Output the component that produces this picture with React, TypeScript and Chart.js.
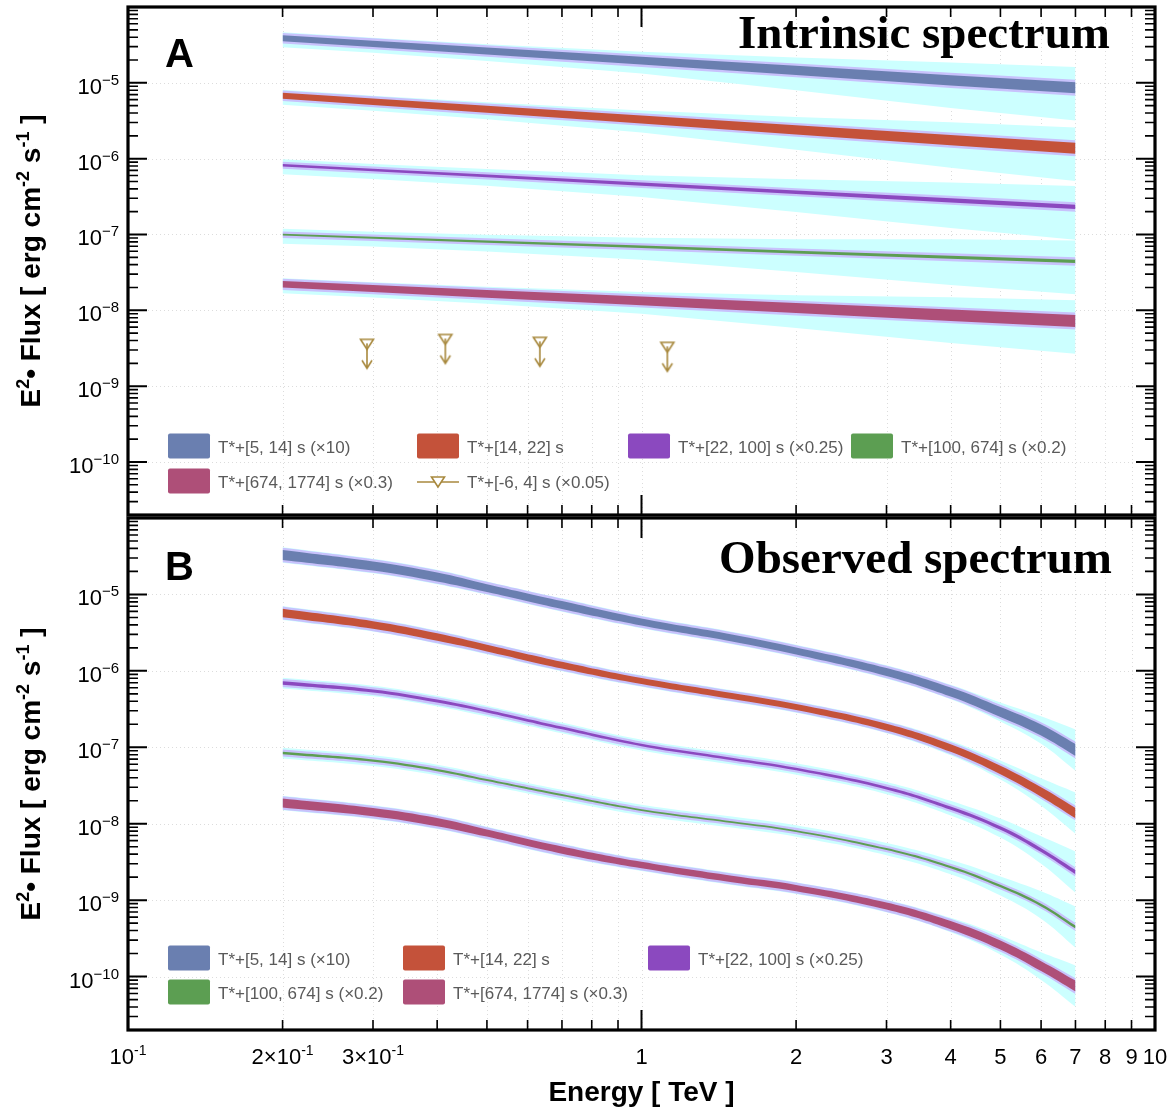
import React, { useEffect, useRef } from "react";
import { Chart, registerables } from "chart.js";

Chart.register(...registerables);

// ---------------- data ----------------
const ENERGY_A = [0.2, 0.3, 0.5, 1, 2, 4, 7];
const INTR_5_14 = [3.88e-5, 3.27e-5, 2.62e-5, 1.96e-5, 1.46e-5, 1.08e-5, 8.6e-6];
const INTR_14_22 = [6.76e-6, 5.64e-6, 4.48e-6, 3.28e-6, 2.4e-6, 1.76e-6, 1.37e-6];
const INTR_22_100 = [8.2e-7, 7.1e-7, 5.92e-7, 4.62e-7, 3.61e-7, 2.82e-7, 2.31e-7];
const INTR_100_674 = [9.93e-8, 9.08e-8, 8.05e-8, 6.89e-8, 5.86e-8, 5.01e-8, 4.41e-8];
const INTR_674_1774 = [2.2e-8, 1.94e-8, 1.65e-8, 1.33e-8, 1.07e-8, 8.61e-9, 7.23e-9];

// band half-widths (decades) for the intrinsic panel
const CORE_HALF_A = [0.039, 0.042, 0.046, 0.052, 0.06, 0.068, 0.072];
const STAT_PAD_A = [0.03, 0.03, 0.03, 0.03, 0.03, 0.032, 0.034];
const SYS_UP_A = [0.079, 0.079, 0.092, 0.118, 0.17, 0.236, 0.275];
const SYS_LO_A = [0.118, 0.118, 0.131, 0.17, 0.262, 0.366, 0.432];

const ENERGY_B = [0.2, 0.3, 0.4, 0.5, 0.7, 1, 1.5, 2, 3, 4, 5, 6, 7];
const OBS_5_14 = [3.28e-5, 2.35e-5, 1.69e-5, 1.21e-5, 7.26e-6, 4.35e-6, 2.69e-6, 1.82e-6, 9.66e-7, 5.28e-7, 2.89e-7, 1.68e-7, 9.21e-8];
const OBS_14_22 = [5.71e-6, 3.98e-6, 2.77e-6, 1.99e-6, 1.19e-6, 7.36e-7, 4.68e-7, 3.36e-7, 1.84e-7, 9.78e-8, 5.04e-8, 2.6e-8, 1.38e-8];
const OBS_22_100 = [6.93e-7, 5.45e-7, 4.03e-7, 2.98e-7, 1.79e-7, 1.07e-7, 7.02e-8, 5.19e-8, 2.93e-8, 1.6e-8, 8.78e-9, 4.52e-9, 2.33e-9];
const OBS_100_674 = [8.41e-8, 6.69e-8, 5.04e-8, 3.73e-8, 2.37e-8, 1.51e-8, 1.05e-8, 8.02e-9, 4.66e-9, 2.71e-9, 1.53e-9, 8.63e-10, 4.45e-10];
const OBS_674_1774 = [1.87e-8, 1.42e-8, 1.05e-8, 7.55e-9, 4.52e-9, 2.88e-9, 1.89e-9, 1.44e-9, 8.38e-10, 4.72e-10, 2.59e-10, 1.37e-10, 7.52e-11];

// band half-widths (decades) for the observed panel
const CORE_HALF_B = [0.065, 0.059, 0.059, 0.052, 0.052, 0.046, 0.046, 0.046, 0.052, 0.059, 0.065, 0.072, 0.079];
const STAT_PAD_B = [0.03, 0.03, 0.03, 0.03, 0.03, 0.03, 0.03, 0.03, 0.03, 0.03, 0.03, 0.03, 0.032];
const SYS_HALF_B = [0.07, 0.07, 0.07, 0.07, 0.07, 0.07, 0.072, 0.075, 0.08, 0.095, 0.125, 0.18, 0.27];

// upper limits T*+[-6, 4] s (x0.05)
const UL_ENERGY = [0.292, 0.415, 0.634, 1.123];
const UL_FLUX = [3.56e-9, 4.13e-9, 3.78e-9, 3.25e-9];

const SERIES_LABELS = [
  "T*+[5, 14] s (×10)",
  "T*+[14, 22] s",
  "T*+[22, 100] s (×0.25)",
  "T*+[100, 674] s (×0.2)",
  "T*+[674, 1774] s (×0.3)",
];
const UL_LABEL = "T*+[-6, 4] s (×0.05)";

const X_TICKS = [0.1, 0.2, 0.3, 0.4, 0.5, 0.6, 0.7, 0.8, 0.9, 1, 2, 3, 4, 5, 6, 7, 8, 9, 10];
const X_LABEL_VALUES = [0.1, 0.2, 0.3, 1, 2, 3, 4, 5, 6, 7, 8, 9, 10];
const X_LABEL_MAIN = ["10", "2×10", "3×10", "1", "2", "3", "4", "5", "6", "7", "8", "9", "10"];
const X_LABEL_SUP = ["-1", "-1", "-1", "", "", "", "", "", "", "", "", "", ""];
const Y_LABEL_EXP = [-10, -9, -8, -7, -6, -5];

// ---------------- styles ----------------
const COLORS = ["#6a7fb0", "#c4523a", "#8b49bf", "#5c9e52", "#ae4f78"];
const CORE_FACTOR_A = [1, 1, 0.4, 0.3, 1.1];
const CORE_FACTOR_B = [1, 0.85, 0.35, 0.25, 0.9];
const LAVENDER = "rgb(200,194,252)";
const CYAN = "rgb(204,255,255)";
const GOLD = "#a8893e";
const SANS = "'Liberation Sans', Arial, Helvetica, sans-serif";
const SERIF = "'Liberation Serif', 'Times New Roman', serif";
const X_MIN = 0.1, X_MAX = 10, Y_MIN = 2e-11, Y_MAX = 1e-4;

type Seg = { t: string; sup?: boolean };

function bandDatasets(
  energies: number[], values: number[], coreHalf: number[], statPad: number[],
  sysUp: number[], sysLo: number[], factor: number, color: string, smooth: boolean
) {
  const pts = (k: (i: number) => number) => energies.map((e, i) => ({ x: e, y: values[i] * Math.pow(10, k(i)) }));
  const core = (i: number) => factor * coreHalf[i];
  const stat = (i: number) => core(i) + statPad[i];
  const up = (i: number) => Math.max(stat(i) + 0.006, sysUp[i]);
  const lo = (i: number) => Math.max(stat(i) + 0.006, sysLo[i]);
  const common: any = {
    borderWidth: 0, borderColor: "transparent", pointRadius: 0, pointHoverRadius: 0,
    tension: smooth ? 0.4 : 0, cubicInterpolationMode: "default",
  };
  return [
    { ...common, data: pts(up), fill: "+1", backgroundColor: CYAN, order: 3 },
    { ...common, data: pts((i) => -lo(i)), fill: false, order: 3 },
    { ...common, data: pts(stat), fill: "+1", backgroundColor: LAVENDER, order: 2 },
    { ...common, data: pts((i) => -stat(i)), fill: false, order: 2 },
    { ...common, data: pts(core), fill: "+1", backgroundColor: color, order: 1 },
    { ...common, data: pts((i) => -core(i)), fill: false, order: 1 },
  ];
}

function makeUlImage() {
  const c = document.createElement("canvas");
  c.width = 20; c.height = 64;
  const g = c.getContext("2d")!;
  g.strokeStyle = GOLD; g.lineWidth = 1.6; g.lineJoin = "miter";
  const cx = 10, cy = 32;
  g.beginPath();
  g.moveTo(cx - 6.5, cy - 5); g.lineTo(cx + 6.5, cy - 5); g.lineTo(cx, cy + 5); g.closePath();
  g.stroke();
  g.beginPath();
  g.moveTo(cx, cy - 1); g.lineTo(cx, cy + 24);
  g.moveTo(cx - 5, cy + 16); g.lineTo(cx, cy + 24); g.lineTo(cx + 5, cy + 16);
  g.stroke();
  return c;
}

function drawRich(ctx: CanvasRenderingContext2D, segs: Seg[], x: number, y: number,
  mainFont: string, supFont: string, rise: number, align: "left" | "right" | "center", color: string) {
  ctx.textAlign = "left"; ctx.textBaseline = "alphabetic"; ctx.fillStyle = color;
  let total = 0;
  const w = segs.map((s) => { ctx.font = s.sup ? supFont : mainFont; const m = ctx.measureText(s.t).width; total += m; return m; });
  let cx = align === "right" ? x - total : align === "center" ? x - total / 2 : x;
  segs.forEach((s, i) => {
    ctx.font = s.sup ? supFont : mainFont;
    ctx.fillText(s.t, cx, s.sup ? y - rise : y);
    cx += w[i];
  });
}

function isMajor(v: number) {
  const l = Math.log10(v);
  return Math.abs(l - Math.round(l)) < 1e-6;
}

type LegendItem = { kind: "box" | "ul"; color: string; text: string; x: number; y: number };

function makeDecor(panel: "A" | "B", offsetY: number, legend: LegendItem[], title: string) {
  return {
    id: "decor" + panel,
    beforeDatasetsDraw(chart: any) {
      const { ctx, chartArea: a, scales } = chart;
      const xs = scales.x, ys = scales.y;
      ctx.save();
      ctx.strokeStyle = "#dcdcdc"; ctx.lineWidth = 1; ctx.setLineDash([1, 3]);
      ctx.beginPath();
      X_TICKS.forEach((v) => {
        if (v <= X_MIN || v >= X_MAX) return;
        const px = Math.round(xs.getPixelForValue(v)) + 0.5;
        ctx.moveTo(px, a.top); ctx.lineTo(px, a.bottom);
      });
      Y_LABEL_EXP.forEach((e) => {
        const py = Math.round(ys.getPixelForValue(Math.pow(10, e))) + 0.5;
        ctx.moveTo(a.left, py); ctx.lineTo(a.right, py);
      });
      ctx.stroke();
      ctx.restore();
    },
    afterDraw(chart: any) {
      const { ctx, chartArea: a, scales } = chart;
      const xs = scales.x, ys = scales.y;
      ctx.save();
      // ticks
      ctx.strokeStyle = "#000"; ctx.setLineDash([]);
      X_TICKS.forEach((v) => {
        const px = xs.getPixelForValue(v);
        const len = isMajor(v) ? 20 : 10;
        ctx.lineWidth = isMajor(v) ? 2 : 1.6;
        ctx.beginPath();
        ctx.moveTo(px, a.top); ctx.lineTo(px, a.top + len);
        ctx.moveTo(px, a.bottom); ctx.lineTo(px, a.bottom - len);
        ctx.stroke();
      });
      for (let d = -11; d <= -4; d++) {
        for (let m = 1; m <= 9; m++) {
          const v = m * Math.pow(10, d);
          if (v < Y_MIN * 0.999 || v > Y_MAX * 1.001) continue;
          const py = ys.getPixelForValue(v);
          const len = m === 1 ? 19 : 10;
          ctx.lineWidth = m === 1 ? 2 : 1.6;
          ctx.beginPath();
          ctx.moveTo(a.left, py); ctx.lineTo(a.left + len, py);
          ctx.moveTo(a.right, py); ctx.lineTo(a.right - len, py);
          ctx.stroke();
        }
      }
      // frame
      ctx.lineWidth = 3.2;
      ctx.strokeRect(a.left, a.top, a.right - a.left, a.bottom - a.top);

      // y tick labels
      Y_LABEL_EXP.forEach((e) => {
        const py = ys.getPixelForValue(Math.pow(10, e));
        drawRich(ctx, [{ t: "10" }, { t: "−" + String(-e), sup: true }], 119, py + 11,
          `22px ${SANS}`, `15px ${SANS}`, 9, "right", "#000");
      });

      // y axis title (rotated)
      const cy = (a.top + a.bottom) / 2;
      ctx.save();
      ctx.translate(40, cy);
      ctx.rotate(-Math.PI / 2);
      drawRich(ctx, [
        { t: "E" }, { t: "2", sup: true }, { t: "• Flux [ erg cm" }, { t: "-2", sup: true },
        { t: " s" }, { t: "-1", sup: true }, { t: " ]" },
      ], 0, 0, `bold 28px ${SANS}`, `bold 18px ${SANS}`, 11, "center", "#000");
      ctx.restore();

      // panel letter and title
      ctx.fillStyle = "#000";
      ctx.textBaseline = "alphabetic";
      ctx.textAlign = "left";
      ctx.font = `bold 40px ${SANS}`;
      ctx.fillText(panel, 165, (panel === "A" ? 67 : 580) - offsetY);
      ctx.textAlign = "right";
      ctx.font = `bold 47px ${SERIF}`;
      ctx.fillText(title, panel === "A" ? 1110 : 1112, (panel === "A" ? 48 : 573) - offsetY);

      // legend
      legend.forEach((it) => {
        const y = it.y - offsetY;
        if (it.kind === "box") {
          ctx.fillStyle = it.color;
          ctx.beginPath();
          if ((ctx as any).roundRect) (ctx as any).roundRect(it.x, y - 12.5, 42, 25, 2);
          else ctx.rect(it.x, y - 12.5, 42, 25);
          ctx.fill();
        } else {
          ctx.strokeStyle = it.color; ctx.lineWidth = 1.6;
          ctx.beginPath();
          ctx.moveTo(it.x, y + 1); ctx.lineTo(it.x + 42, y + 1);
          ctx.stroke();
          ctx.beginPath();
          ctx.moveTo(it.x + 21 - 6.5, y - 4); ctx.lineTo(it.x + 21 + 6.5, y - 4); ctx.lineTo(it.x + 21, y + 6); ctx.closePath();
          ctx.fillStyle = "#fff"; ctx.fill(); ctx.stroke();
        }
        ctx.fillStyle = "#5a5a5a";
        ctx.font = `17px ${SANS}`;
        ctx.textAlign = "left";
        ctx.textBaseline = "middle";
        ctx.fillText(it.text, it.x + 50, y + 2);
      });

      // x labels and title (bottom panel)
      if (panel === "B") {
        X_LABEL_VALUES.forEach((v, i) => {
          const px = xs.getPixelForValue(v);
          const segs: Seg[] = [{ t: X_LABEL_MAIN[i] }];
          if (X_LABEL_SUP[i]) segs.push({ t: X_LABEL_SUP[i], sup: true });
          drawRich(ctx, segs, px, 1064 - offsetY, `22px ${SANS}`, `14px ${SANS}`, 9, "center", "#000");
        });
        ctx.fillStyle = "#000";
        ctx.font = `bold 28px ${SANS}`;
        ctx.textAlign = "center";
        ctx.textBaseline = "alphabetic";
        ctx.fillText("Energy [ TeV ]", (a.left + a.right) / 2, 1101 - offsetY);
      }
      ctx.restore();
    },
  };
}

function makeOptions(padding: any): any {
  return {
    responsive: false,
    maintainAspectRatio: false,
    animation: false,
    events: [],
    layout: { padding },
    plugins: { legend: { display: false }, tooltip: { enabled: false } },
    scales: {
      x: { type: "logarithmic", min: X_MIN, max: X_MAX, display: false },
      y: { type: "logarithmic", min: Y_MIN, max: Y_MAX, display: false },
    },
  };
}

export default function App() {
  const refA = useRef<HTMLCanvasElement>(null);
  const refB = useRef<HTMLCanvasElement>(null);

  useEffect(() => {
    document.body.style.margin = "0";
    const ulImg = makeUlImage();

    const intr = [INTR_5_14, INTR_14_22, INTR_22_100, INTR_100_674, INTR_674_1774];
    const obs = [OBS_5_14, OBS_14_22, OBS_22_100, OBS_100_674, OBS_674_1774];

    const dsA: any[] = [];
    intr.forEach((vals, s) => {
      dsA.push(...bandDatasets(ENERGY_A, vals, CORE_HALF_A, STAT_PAD_A, SYS_UP_A, SYS_LO_A, CORE_FACTOR_A[s], COLORS[s], false));
    });
    dsA.push({
      label: UL_LABEL,
      data: UL_ENERGY.map((e, i) => ({ x: e, y: UL_FLUX[i] })),
      showLine: false, pointStyle: ulImg, pointRadius: 6, borderColor: GOLD, backgroundColor: GOLD, order: 0,
    });

    const dsB: any[] = [];
    obs.forEach((vals, s) => {
      dsB.push(...bandDatasets(ENERGY_B, vals, CORE_HALF_B, STAT_PAD_B, SYS_HALF_B, SYS_HALF_B, CORE_FACTOR_B[s], COLORS[s], true));
    });

    const legendA: LegendItem[] = [
      { kind: "box", color: COLORS[0], text: SERIES_LABELS[0], x: 168, y: 446 },
      { kind: "box", color: COLORS[1], text: SERIES_LABELS[1], x: 417, y: 446 },
      { kind: "box", color: COLORS[2], text: SERIES_LABELS[2], x: 628, y: 446 },
      { kind: "box", color: COLORS[3], text: SERIES_LABELS[3], x: 851, y: 446 },
      { kind: "box", color: COLORS[4], text: SERIES_LABELS[4], x: 168, y: 481 },
      { kind: "ul", color: GOLD, text: UL_LABEL, x: 417, y: 481 },
    ];
    const legendB: LegendItem[] = [
      { kind: "box", color: COLORS[0], text: SERIES_LABELS[0], x: 168, y: 958 },
      { kind: "box", color: COLORS[1], text: SERIES_LABELS[1], x: 403, y: 958 },
      { kind: "box", color: COLORS[2], text: SERIES_LABELS[2], x: 648, y: 958 },
      { kind: "box", color: COLORS[3], text: SERIES_LABELS[3], x: 168, y: 992 },
      { kind: "box", color: COLORS[4], text: SERIES_LABELS[4], x: 403, y: 992 },
    ];

    const chartA = new Chart(refA.current!, {
      type: "line",
      data: { datasets: dsA },
      options: makeOptions({ left: 128, right: 12, top: 6, bottom: 4 }),
      plugins: [makeDecor("A", 0, legendA, "Intrinsic spectrum")],
    } as any);
    const chartB = new Chart(refB.current!, {
      type: "line",
      data: { datasets: dsB },
      options: makeOptions({ left: 128, right: 12, top: 8, bottom: 80 }),
      plugins: [makeDecor("B", 510, legendB, "Observed spectrum")],
    } as any);
    return () => { chartA.destroy(); chartB.destroy(); };
  }, []);

  return (
    <div style={{ position: "relative", width: 1167, height: 1110, background: "#fff", overflow: "hidden" }}>
      <canvas ref={refA} width={1167} height={522} style={{ position: "absolute", left: 0, top: 0, width: 1167, height: 522 }} />
      <canvas ref={refB} width={1167} height={600} style={{ position: "absolute", left: 0, top: 510, width: 1167, height: 600 }} />
    </div>
  );
}
